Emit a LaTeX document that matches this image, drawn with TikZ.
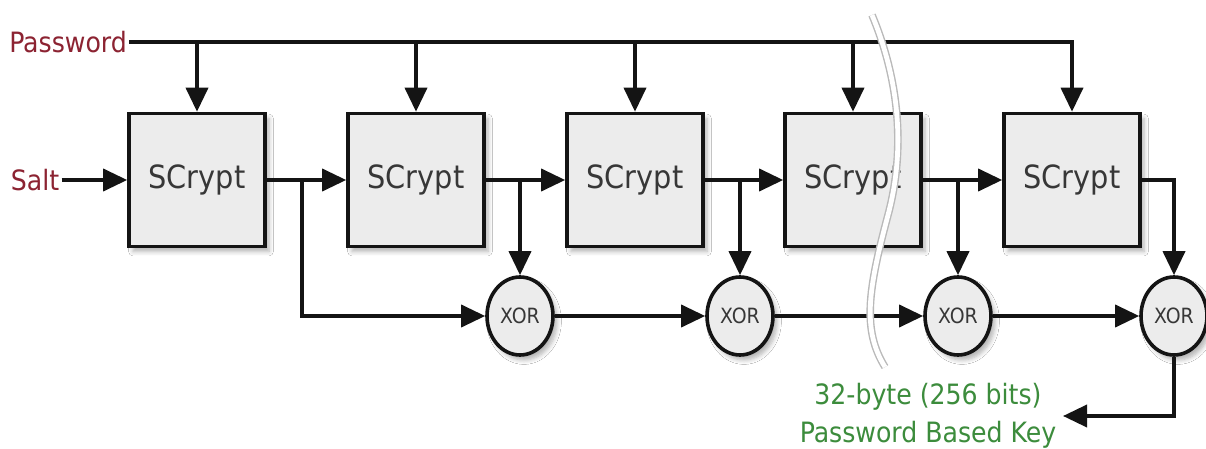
\documentclass[tikz,border=0pt]{standalone}
\usepackage{fontspec}
\setmainfont{DejaVu Sans Condensed}
\usetikzlibrary{arrows.meta,shapes.geometric,shadows.blur}
\definecolor{inkred}{RGB}{140,35,50}
\definecolor{inkgreen}{RGB}{60,140,60}
\definecolor{boxfill}{RGB}{236,236,236}
\definecolor{ink}{RGB}{20,20,20}
\definecolor{label}{RGB}{55,55,55}
\tikzset{
  wire/.style={line width=1.8pt, draw=ink},
  flow/.style={wire, -{Triangle[length=12pt,width=11pt]}},
  soft/.style={blur shadow={shadow xshift=2pt, shadow yshift=-2.5pt,
      shadow blur steps=6, shadow opacity=30}},
  stage/.style={rectangle, draw=ink, line width=1.8pt, fill=boxfill,
      minimum width=68pt, minimum height=66.5pt, inner sep=0pt,
      text=label, font=\fontsize{16}{19}\selectfont, soft},
  mix/.style={ellipse, draw=ink, line width=1.8pt, fill=boxfill,
      minimum width=33pt, minimum height=39pt, inner sep=0pt,
      text=label, font=\fontsize{10.5}{12}\selectfont, soft},
  tag/.style={font=\fontsize{14}{17}\selectfont, inner sep=1pt},
  cut/.style={draw=gray!55, line width=0.7pt, double=white,
      double distance=2.4pt}
}
\begin{document}
\begin{tikzpicture}[x=0.5pt,y=-0.5pt]
  \fill[white] (0,0) rectangle (1206,449);
  \useasboundingbox (0,0) rectangle (1206,449);

  % inputs
  \node[tag, text=inkred] (pw) at (68,42) {Password};
  \node[tag, text=inkred] (salt) at (35,180) {Salt};

  % SCrypt chain
  \node[stage] (s1) at (197,180) {SCrypt};
  \node[stage] (s2) at (416,180) {SCrypt};
  \node[stage] (s3) at (635,180) {SCrypt};
  \node[stage] (s4) at (853,180) {SCrypt};
  \node[stage] (s5) at (1072,180) {SCrypt};

  % XOR accumulators
  \node[mix] (x1) at (520,316) {XOR};
  \node[mix] (x2) at (740,316) {XOR};
  \node[mix] (x3) at (958,316) {XOR};
  \node[mix] (x4) at (1174,316) {XOR};

  % result
  \node[tag, text=inkgreen, align=center, font=\fontsize{14}{19}\selectfont]
    (key) at (928,416) {32-byte (256 bits)\\Password Based Key};
  \coordinate (keyin) at (1063,416);
  \coordinate (b1) at (302,180);

  % password feed
  \draw[flow] (pw.east) -| (s5.north);
  \foreach \s in {s1,s2,s3,s4}
    \draw[flow] (pw.east -| \s.north) -- (\s.north);

  % salt and chain
  \draw[flow] (salt.east) -- (s1.west);
  \draw[flow] (s1.east) -- (s2.west);
  \draw[flow] (s2.east) -- (s3.west);
  \draw[flow] (s3.east) -- (s4.west);
  \draw[flow] (s4.east) -- (s5.west);

  % taps into the XOR line
  \draw[flow] (b1) |- (x1.west);
  \draw[flow] (s2.east -| x1.north) -- (x1.north);
  \draw[flow] (s3.east -| x2.north) -- (x2.north);
  \draw[flow] (s4.east -| x3.north) -- (x3.north);
  \draw[flow] (s5.east) -| (x4.north);

  \draw[flow] (x1.east) -- (x2.west);
  \draw[flow] (x2.east) -- (x3.west);
  \draw[flow] (x3.east) -- (x4.west);

  % output
  \draw[flow] (x4.south) |- (keyin);

  % break mark
  \draw[cut] (872,15) .. controls (895,70) and (908,140) .. (888,215)
             .. controls (868,290) and (862,330) .. (885,367);
\end{tikzpicture}
\end{document}
